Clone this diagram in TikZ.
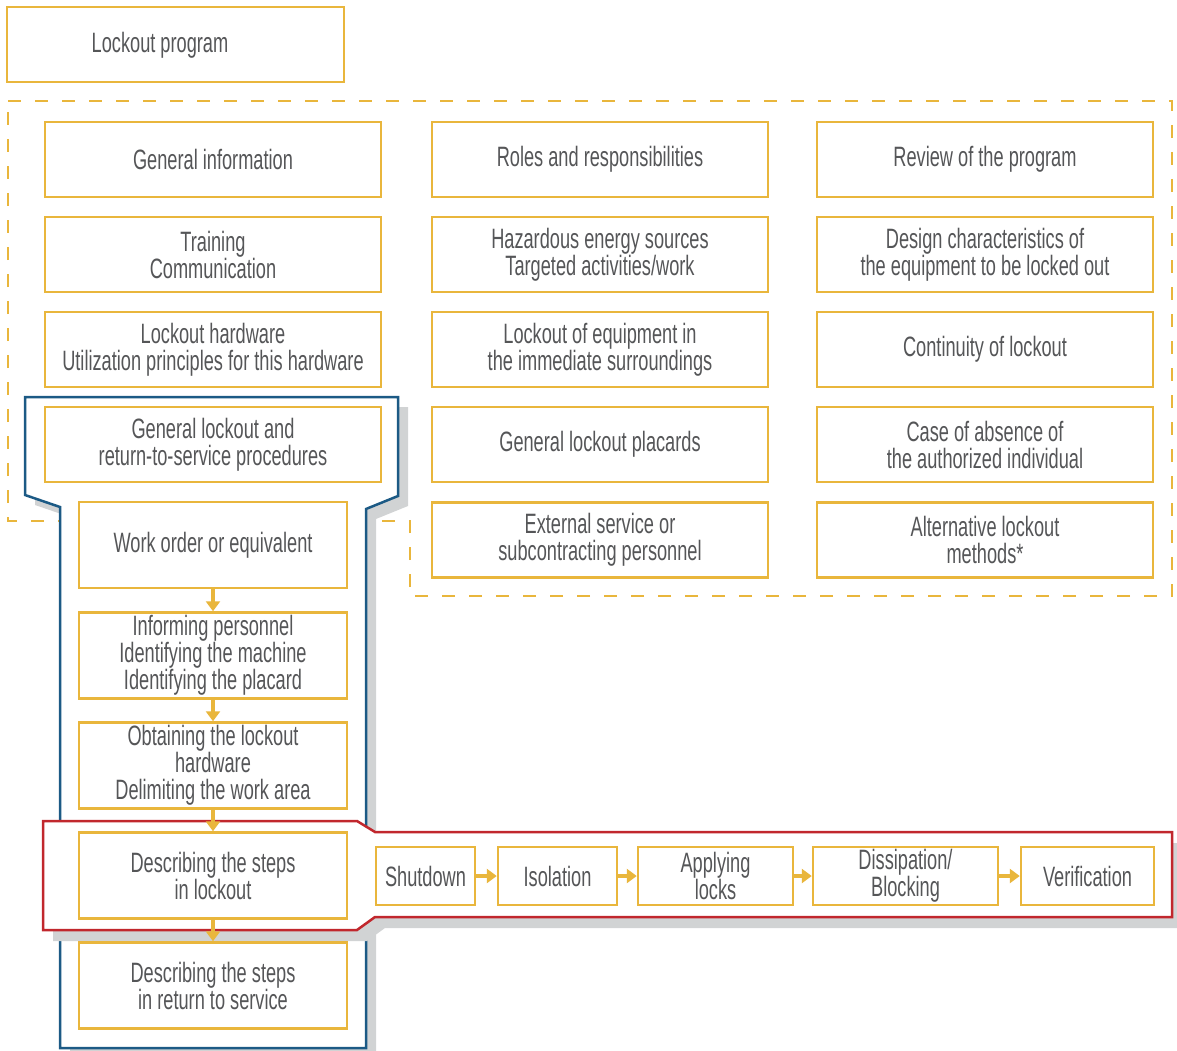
\documentclass[tikz,border=0pt]{standalone}
\usepackage{fontspec}
\setmainfont{Liberation Sans}[FakeStretch=0.65]
\usetikzlibrary{arrows.meta}
\definecolor{ylw}{HTML}{E9B63C}
\definecolor{blu}{HTML}{1C5A85}
\definecolor{rd}{HTML}{C1272D}
\definecolor{shd}{HTML}{D1D3D4}
\definecolor{txtc}{HTML}{555658}
\tikzset{
  ybox/.style={draw=ylw, line width=2.5pt, fill=white, inner sep=0pt, align=center,
     text=txtc, font=\fontsize{28}{27}\selectfont},
  txt/.style={inner sep=0pt, align=center, text=txtc, font=\fontsize{28}{27}\selectfont},
  yarrow/.style={draw=ylw, line width=4.5pt, -{Triangle[width=14pt,length=10pt]}},
  dashbox/.style={draw=ylw, line width=2.5pt, dash pattern=on 13pt off 14pt},
  bigbox/.style={minimum width=336pt, minimum height=75pt},
  colbox/.style={minimum width=268pt, minimum height=86pt},
}
\begin{document}
\begin{tikzpicture}[x=1pt,y=-1pt]
\useasboundingbox (0,0) rectangle (1177,1051);
% dashed region
\draw[dashbox] (8,101) -- (1172,101) -- (1172,596) -- (410,596) -- (410,521) -- (8,521) -- cycle;
% top box
\node[ybox, minimum width=337pt, minimum height=75pt] (lp) at (175.5,44.5) {};
\node[txt] (lpt) at (160,45) {Lockout program};
% blue shape with shadow
\fill[shd, shift={(10,10)}] (25,397) -- (398,397) -- (398,496) -- (366,509) -- (366,1048) -- (60,1048) -- (60,507) -- (25,495) -- cycle;
\draw[blu, line width=2.5pt, fill=white] (25,397) -- (398,397) -- (398,496) -- (366,509) -- (366,1048) -- (60,1048) -- (60,507) -- (25,495) -- cycle;
% red shape with shadow
\fill[shd, shift={(10,11)}] (43,821) -- (357,821) -- (375,832) -- (1172,832) -- (1172,917) -- (375,917) -- (357,930) -- (43,930) -- cycle;
\draw[rd, line width=2.5pt, fill=white] (43,821) -- (357,821) -- (375,832) -- (1172,832) -- (1172,917) -- (375,917) -- (357,930) -- (43,930) -- cycle;
% grid
\node[ybox, bigbox] (a1) at (213,159.5) {General information};
\node[ybox, bigbox] (a2) at (213,254.5) {Training\\Communication};
\node[ybox, bigbox] (a3) at (213,349.5) {Lockout hardware\\Utilization principles for this hardware};
\node[ybox, bigbox] (a4) at (213,444.5) {General lockout and\\return-to-service procedures};
\node[ybox, bigbox] (b1) at (600,159.5) {Roles and responsibilities};
\node[ybox, bigbox] (b2) at (600,254.5) {Hazardous energy sources\\Targeted activities/work};
\node[ybox, bigbox] (b3) at (600,349.5) {Lockout of equipment in\\the immediate surroundings};
\node[ybox, bigbox] (b4) at (600,444.5) {General lockout placards};
\node[ybox, bigbox] (b5) at (600,540) {External service or\\subcontracting personnel};
\node[ybox, bigbox] (c1) at (985,159.5) {Review of the program};
\node[ybox, bigbox] (c2) at (985,254.5) {Design characteristics of\\the equipment to be locked out};
\node[ybox, bigbox] (c3) at (985,349.5) {Continuity of lockout};
\node[ybox, bigbox] (c4) at (985,444.5) {Case of absence of\\the authorized individual};
\node[ybox, bigbox] (c5) at (985,540) {Alternative lockout\\methods*};
% column
\node[ybox, colbox] (d1) at (213,545) {Work order or equivalent};
\node[ybox, colbox] (d2) at (213,655.5) {Informing personnel\\Identifying the machine\\Identifying the placard};
\node[ybox, colbox] (d3) at (213,765.5) {Obtaining the lockout\\hardware\\Delimiting the work area};
\node[ybox, colbox] (d4) at (213,875.5) {Describing the steps\\in lockout};
\node[ybox, colbox] (d5) at (213,985.5) {Describing the steps\\in return to service};
\draw[yarrow] (d1.south) -- (d2.north);
\draw[yarrow] (d2.south) -- (d3.north);
\draw[yarrow] (d3.south) -- (d4.north);
\draw[yarrow] (d4.south) -- (d5.north);
% horizontal steps
\node[ybox, minimum width=99pt, minimum height=58pt] (s1) at (425.5,876) {Shutdown};
\node[ybox, minimum width=119pt, minimum height=58pt] (s2) at (557.5,876) {Isolation};
\node[ybox, minimum width=155pt, minimum height=58pt] (s3) at (715.5,876) {Applying\\locks};
\node[ybox, minimum width=185pt, minimum height=58pt] (s4) at (905.5,876) {Dissipation/\\Blocking};
\node[ybox, minimum width=133pt, minimum height=58pt] (s5) at (1087.5,876) {Verification};
\draw[yarrow] (s1.east) -- (s2.west);
\draw[yarrow] (s2.east) -- (s3.west);
\draw[yarrow] (s3.east) -- (s4.west);
\draw[yarrow] (s4.east) -- (s5.west);
\end{tikzpicture}
\end{document}
